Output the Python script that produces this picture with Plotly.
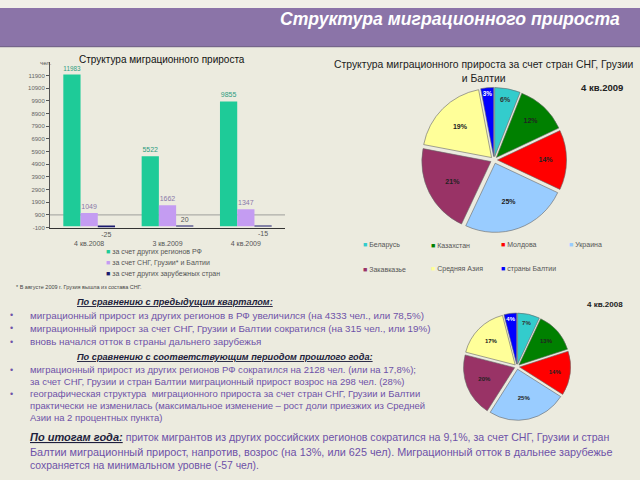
import plotly.graph_objects as go

W, H = 640, 480
FONT = "Liberation Sans"

# ---------------- data ----------------
quarters = ["4 кв.2008", "3 кв.2009", "4 кв.2009"]
regions_rf = [11983, 5522, 9855]
cis = [1049, 1662, 1347]
other_foreign = [-25, 20, -15]
bar_names = ["за счет других регионов РФ", "за счет СНГ, Грузии* и Балтии", "за счет других зарубежных стран"]
bar_colors = ["#1ECB98", "#C49CF2", "#1B1B6E"]
bar_text_colors = ["#2E9C80", "#8A78A8", "#555555"]
ytick_vals = [-100, 900, 1900, 2900, 3900, 4900, 5900, 6900, 7900, 8900, 9900, 10900, 11900]

pie_labels = ["Беларусь", "Казахстан", "Молдова", "Украина", "Закавказье", "Средняя Азия", "страны Балтии"]
pie_2009 = [6, 12, 14, 25, 21, 19, 3]
pie_2008 = [7, 13, 14, 25, 20, 17, 4]
pie_colors = ["#33CCCC", "#008000", "#FF0000", "#99CCFF", "#993366", "#FFFF99", "#0000FF"]
pie_text_colors = ["#333333", "#222222", "#222222", "#222222", "#222222", "#222222", "#FFFFFF"]

slide_title = "Структура миграционного прироста"
bar_title = "Структура миграционного прироста"
pie_title = "Структура миграционного прироста за счет стран СНГ, Грузии<br>и Балтии"
footnote = "* В августе 2009 г. Грузия вышла из состава СНГ."

head1 = "По сравнению с предыдущим кварталом:"
block1 = [
    "миграционный прирост из других регионов в РФ увеличился (на 4333 чел., или 78,5%)",
    "миграционный прирост за счет СНГ, Грузии и Балтии сократился (на 315 чел., или 19%)",
    "вновь начался отток в страны дальнего зарубежья",
]
head2 = "По сравнению с соответствующим периодом прошлого года:"
block2 = [
    ("•", "миграционный прирост из других регионов РФ сократился на 2128 чел. (или на 17,8%);"),
    ("", "за счет СНГ, Грузии и стран Балтии миграционный прирост возрос на 298 чел. (28%)"),
    ("•", "географическая структура  миграционного прироста за счет стран СНГ, Грузии и Балтии"),
    ("", "практически не изменилась (максимальное изменение – рост доли приезжих из Средней"),
    ("", "Азии на 2 процентных пункта)"),
]
head3 = "По итогам года:"
block3 = [
    " приток мигрантов из других российских регионов сократился на 9,1%, за счет СНГ, Грузии и стран",
    "Балтии миграционный прирост, напротив, возрос (на 13%, или 625 чел). Миграционный отток в дальнее зарубежье",
    "сохраняется на минимальном уровне (-57 чел).",
]

TXT = "#6E52A8"
HEAD = "#1E1E3C"


def px(x):
    return x / W


def py(y):
    return 1 - y / H


fig = go.Figure()

# ---------------- bar chart ----------------
series = [regions_rf, cis, other_foreign]
for name, vals, col, tcol in zip(bar_names, series, bar_colors, bar_text_colors):
    fig.add_trace(go.Bar(
        x=quarters, y=vals, name=name, marker=dict(color=col, line=dict(width=0)),
        text=[str(v) for v in vals], textposition="outside",
        textfont=dict(size=7, color=tcol, family=FONT), cliponaxis=False,
        showlegend=False, xaxis="x", yaxis="y",
    ))

# ---------------- pies ----------------
fig.add_trace(go.Pie(
    labels=pie_labels, values=pie_2009, sort=False, direction="clockwise", rotation=0,
    marker=dict(colors=pie_colors, line=dict(color="#666666", width=0.6)),
    pull=[0.05] * len(pie_labels),
    texttemplate="<b>%{value}%</b>", textposition="inside", insidetextorientation="horizontal",
    textfont=dict(size=7, color=pie_text_colors, family=FONT),
    domain=dict(x=[px(494 - 73), px(494 + 73)], y=[py(161 + 73), py(161 - 73)]),
    showlegend=False, hoverinfo="label+percent",
))
fig.add_trace(go.Pie(
    labels=pie_labels, values=pie_2008, sort=False, direction="clockwise", rotation=0,
    marker=dict(colors=pie_colors, line=dict(color="#666666", width=0.6)),
    pull=[0.05] * len(pie_labels),
    texttemplate="<b>%{value}%</b>", textposition="inside", insidetextorientation="horizontal",
    textfont=dict(size=6, color=pie_text_colors, family=FONT),
    domain=dict(x=[px(517 - 54), px(517 + 54)], y=[py(369 + 54), py(369 - 54)]),
    showlegend=False, hoverinfo="label+percent",
))

shapes = [
    dict(type="rect", xref="paper", yref="paper", x0=0, x1=1, y0=py(8), y1=1,
         fillcolor="#F1F0E8", line=dict(width=0), layer="below"),
    dict(type="rect", xref="paper", yref="paper", x0=0, x1=1, y0=py(47), y1=py(8),
         fillcolor="#8B74A8", line=dict(width=0), layer="below"),
    dict(type="line", xref="paper", yref="paper", x0=0, x1=1, y0=py(47), y1=py(47),
         line=dict(color="#6A5A80", width=1)),
    dict(type="line", xref="x domain", yref="y", x0=0, x1=1, y0=900, y1=900,
         line=dict(color="#8A8A8A", width=0.8), layer="below"),
]

annotations = []


def ann(x, y, text, size, color, xanchor="left", yanchor="middle"):
    annotations.append(dict(
        x=px(x), y=py(y), xref="paper", yref="paper", text=text, showarrow=False,
        xanchor=xanchor, yanchor=yanchor, align="left",
        font=dict(size=size, color=color, family=FONT),
    ))


ann(622, 19, "<b><i>" + slide_title + "</i></b>", 17.6, "#FFFFFF", xanchor="right")
ann(38, 63, "чел.", 6, "#555555")
ann(162, 60, bar_title, 10, "#111111", xanchor="center")

# bar legend
for i, (name, col) in enumerate(zip(bar_names, bar_colors)):
    ann(104, 254 + 11 * i, f"<span style='color:{col}'>■</span> {name}", 7, "#555555")
ann(14, 289, footnote, 5.5, "#444444")

# pie titles
ann(484, 72, pie_title, 10.4, "#222222", xanchor="center")
annotations[-1]["align"] = "center"
ann(625, 88, "<b>4 кв.2009</b>", 9.5, "#222222", xanchor="right")
ann(625, 306, "<b>4 кв.2008</b>", 8, "#222222", xanchor="right")

# pie legend
leg_x = [361, 429, 499, 567]
for i, (lab, col) in enumerate(zip(pie_labels, pie_colors)):
    r, c = divmod(i, 4)
    ann(leg_x[c], 247 + 24 * r, f"<span style='color:{col}'>■</span> {lab}", 7, "#555555")

# text blocks
ann(75, 304, "<b><i><u>" + head1 + "</u></i></b>", 9.2, HEAD)
for i, line in enumerate(block1):
    ann(8, 317 + 13.5 * i, "•", 9, TXT)
    ann(28, 317 + 13.5 * i, line, 9.8, TXT)
ann(75, 359, "<b><i><u>" + head2 + "</u></i></b>", 9.2, HEAD)
for i, (b, line) in enumerate(block2):
    yy = 372 + 12 * i
    if b:
        ann(8, yy, b, 9, TXT)
    ann(28, yy, line, 9.5, TXT)
ann(28, 440, "<b><i><u>" + head3 + "</u></i></b><span style='font-size:10.6px'>"
    + f"<span style='color:{TXT}'>{block3[0]}</span></span>", 11, HEAD)
ann(28, 455, block3[1], 10.85, TXT)
ann(28, 468, block3[2], 10.4, TXT)

fig.update_layout(
    width=W, height=H, margin=dict(l=0, r=0, t=0, b=0),
    paper_bgcolor="#ECEBDF", plot_bgcolor="rgba(0,0,0,0)",
    barmode="group", bargap=0.34, bargroupgap=0.0,
    showlegend=False,
    xaxis=dict(domain=[px(50), px(285)], showline=True, linecolor="#333333", linewidth=1,
               ticks="", ticklabelstandoff=9, tickfont=dict(size=7, color="#555555", family=FONT),
               showgrid=False, zeroline=False, fixedrange=True),
    yaxis=dict(domain=[py(229), py(62)], range=[-100, 13000], showline=True,
               linecolor="#555555", linewidth=1, ticks="outside", ticklen=3,
               tickcolor="#555555", tickvals=ytick_vals,
               ticktext=[str(v) for v in ytick_vals],
               tickfont=dict(size=6, color="#666666", family=FONT),
               showgrid=False, zeroline=False, fixedrange=True),
    shapes=shapes, annotations=annotations,
    font=dict(family=FONT),
)

fig.write_html("out.html")
